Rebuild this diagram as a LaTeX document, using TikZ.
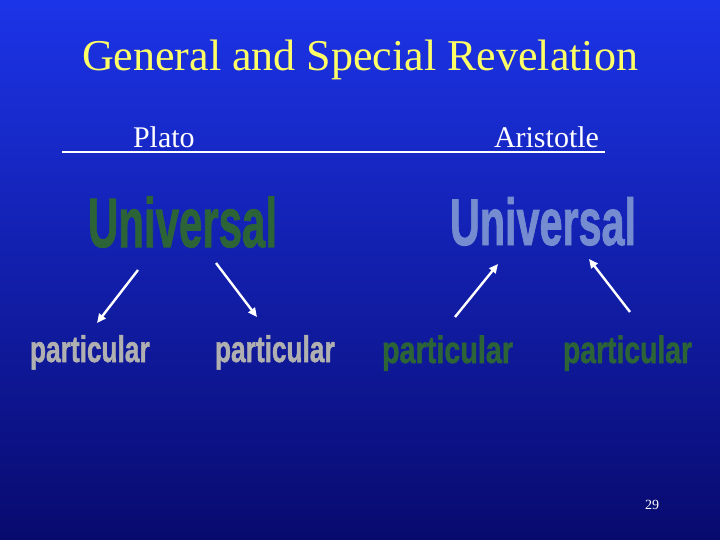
\documentclass[tikz,border=0pt]{standalone}
\usepackage{fontspec}
\usepackage{graphicx}
\setmainfont{Liberation Serif}
\newfontfamily\wafont{Liberation Sans Bold}[FakeBold=1.5]
\usetikzlibrary{arrows.meta}
\definecolor{bgtop}{RGB}{28,52,232}
\definecolor{bgmid}{RGB}{10,24,198}
\definecolor{bgbot}{RGB}{8,10,110}
\definecolor{titleyellow}{RGB}{255,255,102}
\definecolor{wagreen}{RGB}{44,100,56}
\definecolor{wablue}{RGB}{118,140,208}
\definecolor{wagray}{RGB}{176,176,176}
\tikzset{
  txt/.style={inner sep=0pt, outer sep=0pt},
  arr/.style={white, line width=2.4pt, -{Triangle[length=9pt,width=8pt]}},
}
\newcommand{\wordart}[3]{\scalebox{#1}[1]{\wafont\fontsize{#2}{#2}\selectfont #3}}
\begin{document}
\begin{tikzpicture}[x=1pt,y=-1pt]
\useasboundingbox (0,0) rectangle (720,540);
\shade[top color=bgtop, middle color=bgmid, bottom color=bgbot] (0,0) rectangle (720,540);

\node[txt, anchor=base, text=titleyellow, font=\fontsize{44}{44}\selectfont] (title) at (360,71) {General and Special Revelation};

\node[txt, anchor=base west, text=white, font=\fontsize{30}{30}\selectfont] (plato) at (133,148) {Plato};
\node[txt, anchor=base west, text=white, font=\fontsize{30}{30}\selectfont] (aristotle) at (494,148) {Aristotle};
\coordinate (ulL) at (62,152);
\coordinate (ulR) at (605,152);
\draw[white, line width=2pt] (ulL) -- (ulR);

\node[txt, anchor=base west, text=wagreen] (uniL) at (88,247) {\wordart{0.6}{70}{Universal}};
\node[txt, anchor=base west, text=wablue] (uniR) at (450,245) {\wordart{0.626}{66}{Universal}};

\node[txt, anchor=base west, text=wagray] (p1) at (30,362) {\wordart{0.71}{37}{particular}};
\node[txt, anchor=base west, text=wagray] (p2) at (215,362) {\wordart{0.71}{37}{particular}};
\node[txt, anchor=base west, text=wagreen] (p3) at (382,363) {\wordart{0.757}{38}{particular}};
\node[txt, anchor=base west, text=wagreen] (p4) at (563,363) {\wordart{0.745}{38}{particular}};

\coordinate (a1s) at (138,270);
\coordinate (a1e) at (97,323);
\coordinate (a2s) at (216,263);
\coordinate (a2e) at (257,317);
\coordinate (a3s) at (455,317);
\coordinate (a3e) at (498,264);
\coordinate (a4s) at (630,312);
\coordinate (a4e) at (589,259);
\draw[arr] (a1s) -- (a1e);
\draw[arr] (a2s) -- (a2e);
\draw[arr] (a3s) -- (a3e);
\draw[arr] (a4s) -- (a4e);

\node[txt, anchor=base, text=white, font=\fontsize{14}{14}\selectfont] (pg) at (652,509) {29};
\end{tikzpicture}
\end{document}
